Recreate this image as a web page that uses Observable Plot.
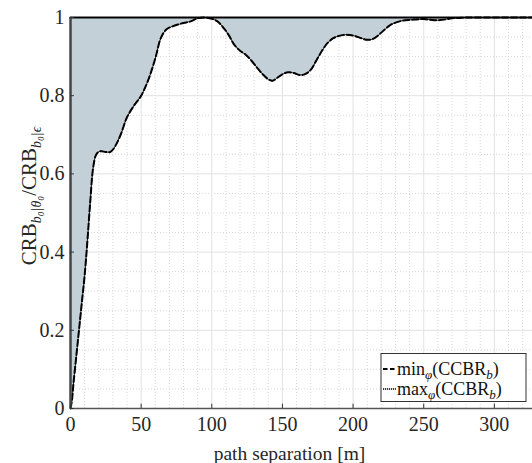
<!DOCTYPE html>
<html>
<head>
<meta charset="utf-8">
<script src="https://cdn.jsdelivr.net/npm/d3@7"></script>
<script src="https://cdn.jsdelivr.net/npm/@observablehq/plot@0.6"></script>
<style>
  html, body { margin: 0; padding: 0; background: white; }
  svg, svg text { font-family: "Liberation Serif", "DejaVu Serif", serif !important; }
</style>
</head>
<body>
<script>
// path separation [m]
const sep = [0, 1, 2, 4, 6, 8, 10, 12, 14, 16, 18, 20, 22, 25, 28, 30, 33, 36, 40, 45,
  50, 55, 60, 64, 68, 72, 76, 80, 85, 90, 95, 100, 104, 108, 112, 116, 120, 124, 128, 132,
  136, 140, 143, 146, 150, 154, 158, 162, 166, 170, 174, 178, 182, 186, 190, 195, 200, 205, 210, 214,
  218, 222, 226, 230, 235, 240, 245, 250, 255, 260, 265, 270, 275, 280, 290, 300, 310, 320, 327];
// min_phi(CCBR_b)
const minVals = [0, 0.02, 0.06, 0.13, 0.20, 0.27, 0.34, 0.43, 0.53, 0.615, 0.648, 0.657, 0.658, 0.656, 0.656, 0.662, 0.68, 0.705, 0.745, 0.775,
  0.80, 0.84, 0.895, 0.948, 0.97, 0.977, 0.982, 0.986, 0.99, 0.998, 1.0, 0.997, 0.99, 0.975, 0.955, 0.93, 0.915, 0.905, 0.89, 0.872,
  0.855, 0.842, 0.838, 0.845, 0.855, 0.86, 0.858, 0.853, 0.855, 0.866, 0.89, 0.915, 0.935, 0.947, 0.953, 0.956, 0.954, 0.948, 0.943, 0.945,
  0.955, 0.968, 0.98, 0.987, 0.992, 0.994, 0.995, 0.996, 0.994, 0.993, 0.995, 0.998, 0.999, 1.0, 1.0, 1.0, 1.0, 1.0, 1.0];
// max_phi(CCBR_b)
const maxVals = [1, 1, 1, 1, 1, 1, 1, 1, 1, 1, 1, 1, 1, 1, 1, 1, 1, 1, 1, 1,
  1, 1, 1, 1, 1, 1, 1, 1, 1, 1, 1, 1, 1, 1, 1, 1, 1, 1, 1, 1,
  1, 1, 1, 1, 1, 1, 1, 1, 1, 1, 1, 1, 1, 1, 1, 1, 1, 1, 1, 1,
  1, 1, 1, 1, 1, 1, 1, 1, 1, 1, 1, 1, 1, 1, 1, 1, 1, 1, 1];

const xTicks = [0, 50, 100, 150, 200, 250, 300];
const yTicks = [0, 0.2, 0.4, 0.6, 0.8, 1];
const xMinor = [10, 20, 30, 40, 60, 70, 80, 90, 110, 120, 130, 140, 160, 170, 180, 190, 210, 220, 230, 240, 260, 270, 280, 290, 310, 320];
const yMinor = [0.05, 0.1, 0.15, 0.25, 0.3, 0.35, 0.45, 0.5, 0.55, 0.65, 0.7, 0.75, 0.85, 0.9, 0.95];
const xLabel = "path separation [m]";
const seriesNames = ["min", "max"];

const data = sep.map((s, i) => ({sep: s, lo: minVals[i], hi: maxVals[i]}));
const curve = "catmull-rom";
const font = "Liberation Serif";

const svg = Plot.plot({
  width: 532,
  height: 463,
  marginTop: 17,
  marginBottom: 55,
  marginLeft: 70,
  marginRight: 0,
  x: {domain: [0, 327]},
  y: {domain: [0, 1]},
  style: {fontFamily: font, fontSize: "20px", background: "white", color: "#262626"},
  marks: [
    Plot.ruleX(xMinor, {stroke: "#cfcfcf", strokeWidth: 0.8, strokeDasharray: "1,2"}),
    Plot.ruleY(yMinor, {stroke: "#cfcfcf", strokeWidth: 0.8, strokeDasharray: "1,2"}),
    Plot.ruleX(xTicks, {stroke: "#e2e2e2", strokeWidth: 1}),
    Plot.ruleY(yTicks, {stroke: "#e2e2e2", strokeWidth: 1}),
    Plot.areaY(data, {x: "sep", y1: "lo", y2: "hi", fill: "#c4d0d8", curve}),
    Plot.line(data, {x: "sep", y: "lo", stroke: "#111", strokeWidth: 0.9, curve}),
    Plot.line(data, {x: "sep", y: "lo", stroke: "black", strokeWidth: 2, strokeDasharray: "6,3", curve}),
    Plot.line(data, {x: "sep", y: "hi", stroke: "black", strokeWidth: 2.2, strokeDasharray: "1.5,1"}),
    Plot.ruleX([0], {stroke: "#454545", strokeWidth: 2.5}),
    Plot.ruleY([0], {stroke: "#555", strokeWidth: 1.5}),
    Plot.ruleX(xTicks, {y1: 0, y2: 0.011, stroke: "#333", strokeWidth: 1}),
    Plot.ruleY(yTicks, {x1: 0, x2: 2.8, stroke: "#333", strokeWidth: 1}),
    Plot.axisX({ticks: xTicks, tickSize: 0, tickPadding: 8, label: null, tickFormat: d => String(d), fontFamily: font, fontSize: 20}),
    Plot.axisY({ticks: yTicks, tickSize: 0, tickPadding: 6, label: null, tickFormat: d => String(d), fontFamily: font, fontSize: 20}),
    Plot.text([xLabel], {text: d => d, x: () => 155, y: () => 0, dy: 45, fontSize: 19.5, fontFamily: font, fill: "#262626"})
  ]
});
document.body.appendChild(svg);

const s = d3.select(svg);
// Y label
const yl = s.append("text")
  .attr("transform", "translate(36,196) rotate(-90)")
  .attr("text-anchor", "middle")
  .attr("font-family", font)
  .attr("font-size", 21)
  .attr("fill", "#262626");
yl.append("tspan").text("CRB");
yl.append("tspan").attr("dy", 5).attr("font-size", 14).attr("font-style", "italic").text("b₀|θ₀");
yl.append("tspan").attr("dy", -5).text("/CRB");
yl.append("tspan").attr("dy", 5).attr("font-size", 14).attr("font-style", "italic").text("b₀|ϵ");

// Legend
const lg = s.append("g").attr("font-family", font).attr("font-size", 18).attr("fill", "#111")
  .attr("text-anchor", "start");
lg.append("rect").attr("x", 381).attr("y", 353.5).attr("width", 145).attr("height", 48)
  .attr("fill", "white").attr("stroke", "#333").attr("stroke-width", 1);
const rows = [
  {name: seriesNames[0], y: 369, dash: "4.5,2.5", w: 2},
  {name: seriesNames[1], y: 389, dash: "1.2,0.8", w: 1.6}
];
rows.forEach(r => {
  lg.append("line").attr("x1", 383).attr("x2", 396).attr("y1", r.y).attr("y2", r.y)
    .attr("stroke", "black").attr("stroke-width", r.w).attr("stroke-dasharray", r.dash);
  const t = lg.append("text").attr("x", 397).attr("y", r.y + 6).attr("text-anchor", "start");
  t.append("tspan").text(r.name);
  t.append("tspan").attr("dy", 4).attr("font-size", 13).attr("font-style", "italic").text("φ");
  t.append("tspan").attr("dy", -4).text("(CCBR");
  t.append("tspan").attr("dy", 4).attr("font-size", 13).attr("font-style", "italic").text("b");
  t.append("tspan").attr("dy", -4).text(")");
});
</script>
</body>
</html>
